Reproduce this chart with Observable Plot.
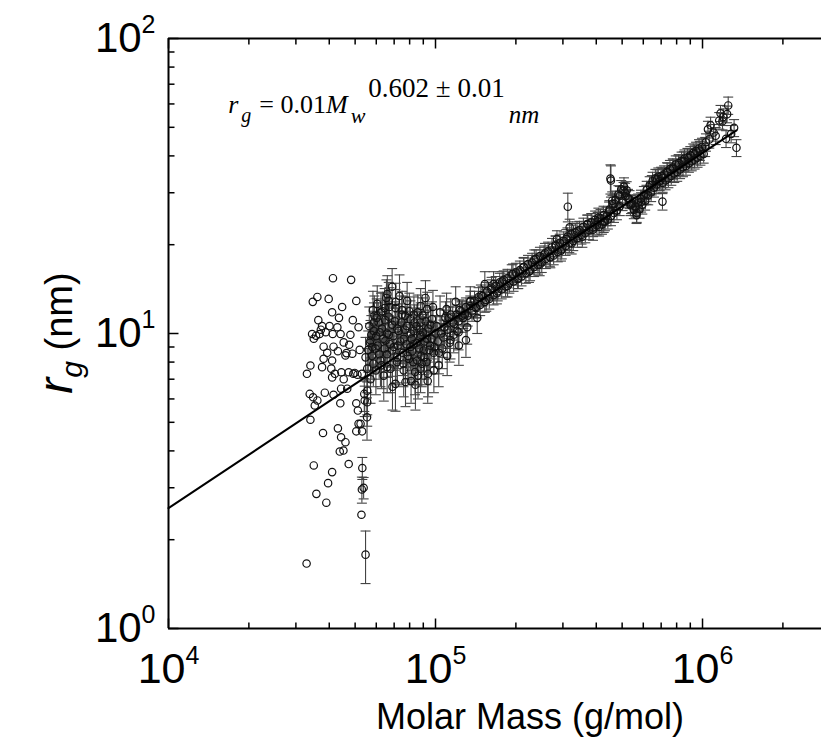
<!DOCTYPE html>
<html><head><meta charset="utf-8">
<script src="https://cdn.jsdelivr.net/npm/d3@7"></script>
<script src="https://cdn.jsdelivr.net/npm/@observablehq/plot@0.6"></script>
<style>
html,body{margin:0;padding:0;background:#fff;overflow:hidden;}
#chart{position:relative;width:821px;height:746px;}
</style></head><body><div id="chart"></div>
<script>
// ---- data: [molar mass (g/mol), r_g (nm)] without error bars ----
const leftCluster = [
[41300,15.4],[48300,15.2],[34700,12.8],[36100,13.3],[39800,13.1],[50500,12.9],[41000,11.8],[44700,12.3],[36400,11.1],[49000,11.1],
[37600,10.6],[40100,10.6],[42900,10.5],[51500,10.5],[34500,9.96],[35700,9.83],[36800,9.96],[38800,10.1],[41200,9.96],[44100,9.96],
[35000,9.6],[38100,9.02],[41500,9.02],[45300,9.33],[47500,9.16],[43100,8.71],[46400,8.58],[48800,8.54],[52000,8.8],[38100,8.21],
[41000,8.1],[46000,8.43],[34000,7.79],[37600,7.69],[40700,7.6],[44400,7.39],[49200,7.3],[33000,7.3],[45300,7.0],[41000,7.1],
[47300,7.39],[51000,7.25],[33800,6.24],[34800,6.08],[36100,5.93],[35300,5.7],[41500,6.2],[44300,6.5],[44000,5.8],[50500,5.8],
[51200,5.48],[34000,5.1],[51500,4.94],[52400,4.94],[50500,4.66],[53100,4.66],[37900,4.6],[43100,4.77],[44300,4.45],[46000,4.28],
[45200,4.01],[43800,3.98],[47300,3.61],[35000,3.57],[41000,3.39],[35800,2.86],[39600,3.11],[39000,2.67],[52800,2.43],[32900,1.66],
[37200,10.3],[39300,8.6],[48000,9.9],[43500,11.3],[49800,7.35],[53000,7.3],[42000,7.3],[46700,6.5],[38500,6.3]
];
// ---- data with error bars: [molar mass, r_g, error] ----
const lowTail = [
[53200,3.5,0.3],[53000,2.96,0.3],[53800,3.0,0.25],[54700,1.78,0.36],[55400,5.2,0.85],[54300,5.93,0.7],[54100,6.24,0.8]
];
const midCluster = [
[68800,14.4,2.2],[73300,13.4,2.4],[66800,12.9,2.0],[78300,12.9,2.0],[60500,12.6,1.9],[91700,13.2,1.9],[61300,10.9,1.8],[66800,11.4,1.8],[80600,11.2,1.7],[87900,10.9,1.8],
[93100,12.1,1.7],[58700,10.2,1.7],[71900,10.4,1.8],[82900,10.2,1.6],[57100,9.47,1.6],[65000,9.47,1.7],[76000,9.6,1.6],[87900,9.7,1.6],[59600,8.9,1.5],[68800,8.76,1.6],
[80600,9.0,1.5],[90300,8.76,1.5],[54700,8.3,1.4],[62200,8.1,1.5],[71900,8.3,1.5],[85400,8.1,1.4],[55500,7.6,1.3],[65900,7.7,1.4],[76000,7.5,1.4],[87900,7.6,1.3],
[57100,7.0,1.2],[70800,6.75,1.3],[77200,6.85,1.2],[84100,6.7,1.2],[64000,7.2,1.3],[55500,6.4,1.1],[55500,5.85,1.0],[58000,9.0,1.5],[60000,9.8,1.6],[61500,8.5,1.5],
[63000,10.4,1.7],[64500,8.9,1.5],[66000,10.0,1.6],[67500,9.2,1.5],[69500,9.8,1.6],[70500,11.0,1.8],[72500,9.1,1.5],[74500,10.9,1.7],[75500,8.6,1.4],[78000,10.6,1.7],
[79500,8.2,1.4],[81500,9.6,1.5],[82500,8.0,1.3],[83500,10.9,1.6],[85000,9.3,1.5],[86000,7.2,1.2],[87000,10.3,1.6],[88500,8.4,1.4],[89500,11.5,1.7],[91000,9.4,1.5],
[92500,8.0,1.3],[94000,10.4,1.6],[95500,9.1,1.4],[97000,11.2,1.6],[98500,8.6,1.3],[100000,10.0,1.5],[102000,9.4,1.4],[104000,11.8,1.6],[106000,8.9,1.3],[108000,10.5,1.5],
[110000,12.1,1.6],[113000,9.3,1.3],[116000,10.9,1.4],[119000,12.8,1.6],[122000,10.1,1.3],[126000,11.5,1.4],[130000,9.5,1.2],[135000,12.9,1.5],[153000,14.7,1.5],[165000,14.7,1.5],
[120600,10.2,1.3],[122300,9.1,1.3],[102800,7.8,1.2],[110600,8.4,1.2],[98600,7.5,1.2],[113800,9.5,1.3],[131400,10.5,1.3],[143300,11.3,1.3],[81000,6.9,1.1],[69000,6.6,1.1],
[62500,11.8,1.9],[59000,11.5,1.9],[64500,12.2,2.0],[75000,12.0,1.9],[65500,13.2,2.0],[66000,13.6,2.1],[56000,8.8,1.4],[57500,9.9,1.6],[56500,10.6,1.7],[58500,7.9,1.3]
];
const midClusterDense = [
[56800,9.3,1.5],[57800,8.4,1.4],[58800,10.9,1.8],[59800,7.5,1.3],[60800,9.1,1.5],[61800,10.1,1.7],[62800,7.8,1.3],[63800,9.6,1.6],[64800,11.1,1.8],[65800,8.5,1.4],
[66800,9.9,1.6],[67800,7.6,1.3],[68800,10.7,1.7],[69800,9.0,1.5],[70800,12.2,1.9],[71800,8.0,1.3],[72800,10.2,1.6],[73800,9.4,1.5],[74800,11.6,1.8],[75800,7.9,1.3],
[76800,10.3,1.6],[77800,9.2,1.5],[78800,8.4,1.4],[79800,11.9,1.8],[80800,10.0,1.6],[81800,8.7,1.4],[82800,9.2,1.5],[83800,7.4,1.2],[84800,10.6,1.6],[85800,11.8,1.7],
[86800,8.9,1.4],[87800,9.9,1.5],[88800,7.9,1.3],[89800,10.1,1.5],[90800,8.3,1.3],[91800,11.0,1.6],[92800,9.6,1.5],[93800,7.3,1.2],[94800,8.8,1.4],[95800,10.7,1.6],
[96800,9.6,1.4],[97800,12.3,1.7],[99000,9.0,1.3],[101000,10.6,1.5],[103000,8.6,1.3],[105000,10.0,1.4],[107000,9.7,1.4],[109000,11.3,1.5],[111000,10.3,1.4],[114000,11.6,1.5],
[117000,9.9,1.3],[60200,11.3,1.8],[63300,11.9,1.9],[67200,12.3,2.0],[71000,12.8,2.0],[77000,11.5,1.8],[83000,11.6,1.7],[88000,12.4,1.8],[58300,12.0,1.9],[93500,6.9,1.1]
];
const band = [
[120000,11.6,0.9],[122000,11.0,0.9],[125000,11.9,0.9],[127000,11.3,0.9],[130000,12.3,0.9],[132000,11.5,0.9],[135000,12.4,1.0],[137000,11.9,0.9],[140000,12.9,1.0],[142000,12.2,0.9],
[145000,13.3,1.0],[147000,12.5,1.0],[150000,13.4,1.0],[153000,12.8,1.0],[156000,13.9,1.0],[159000,13.1,1.0],[162000,14.1,1.1],[165000,13.5,1.0],[168000,14.5,1.1],[171000,13.9,1.0],
[174000,14.9,1.1],[177000,14.1,1.0],[180000,15.2,1.1],[183000,14.4,1.1],[186000,15.4,1.1],[189000,14.8,1.1],[193000,15.9,1.2],[196000,15.0,1.1],[200000,16.1,1.2],[203000,15.3,1.1],
[207000,16.4,1.2],[210000,15.6,1.1],[214000,16.8,1.2],[218000,16.0,1.2],[222000,17.2,1.2],[226000,16.3,1.2],[230000,17.4,1.3],[234000,16.8,1.2],[238000,17.9,1.3],[242000,17.1,1.2],
[246000,18.3,1.3],[250000,17.4,1.3],[255000,18.5,1.3],[259000,17.9,1.3],[264000,19.0,1.4],[268000,18.2,1.3],[273000,19.6,1.4],[277000,18.4,1.3],[282000,20.0,1.4],[287000,18.9,1.4],
[292000,20.3,1.4],[297000,19.3,1.4],[302000,20.6,1.5],[307000,19.8,1.4],[312000,21.3,1.5],[317000,20.2,1.4],[323000,21.8,1.5],[328000,20.6,1.5],[334000,22.0,1.6],[340000,21.1,1.5],
[346000,22.4,1.6],[352000,21.6,1.5],[358000,23.0,1.6],[364000,21.9,1.6],[370000,23.5,1.7],[376000,22.4,1.6],[383000,23.8,1.7],[389000,22.9,1.6],[396000,24.3,1.7],[402000,23.3,1.7],
[405000,24.0,1.7],[410000,23.0,1.6],[415000,24.6,1.7],[420000,23.4,1.7],[426000,25.2,1.8],[431000,24.0,1.7],[437000,25.0,1.8],[442000,24.3,1.7],[448000,26.3,1.9],[454000,25.0,1.8],
[460000,27.5,1.9],[466000,25.6,1.8],[472000,28.4,2.0],[478000,26.1,1.8],[484000,29.6,2.1],[490000,27.0,1.9],[496000,30.8,2.2],[502000,28.1,2.0],[508000,31.5,2.2],[514000,29.2,2.0],
[520000,30.6,2.1],[526000,28.8,2.0],[533000,28.5,2.0],[540000,27.4,1.9],[546000,27.6,1.9],[553000,26.3,1.8],[560000,27.0,1.9],[567000,25.6,1.8],[574000,27.8,1.9],[581000,26.4,1.8],
[588000,28.6,2.0],[595000,27.3,1.9],[603000,29.4,2.1],[610000,28.2,2.0],[618000,30.7,2.1],[626000,29.4,2.1],[634000,31.8,2.2],[642000,30.1,2.1],[650000,32.9,2.3],[658000,31.2,2.2],
[666000,33.6,2.4],[674000,32.0,2.2],[683000,34.0,2.4],[691000,32.8,2.3],
[700000,34.2,2.4],[709000,32.4,2.3],[718000,34.6,2.4],[727000,33.0,2.3],[736000,35.4,2.5],[745000,33.6,2.4],[755000,36.1,2.5],[764000,34.2,2.4],[774000,36.5,2.6],[784000,34.9,2.4],
[794000,37.4,2.6],[804000,35.3,2.5],[814000,37.8,2.6],[824000,36.0,2.5],[835000,38.5,2.7],[845000,36.6,2.6],[856000,39.2,2.7],[867000,37.0,2.6],[878000,39.6,2.8],[889000,37.8,2.6],
[900000,40.2,2.8],[911000,38.3,2.7],[923000,41.0,2.9],[934000,38.8,2.7],[946000,41.6,2.9],[958000,39.4,2.8],[970000,42.4,3.0],[982000,40.0,2.8],[995000,42.9,3.0],[1010000,40.6,2.8]
];
const bandDense = [
[112200,11.3,1.0],[117500,10.8,0.9],[123000,12.0,1.0],[128800,11.6,1.0],[134900,12.8,1.1],[141300,12.3,1.0],[147900,13.5,1.1],[154900,13.0,1.1],[162200,14.3,1.2],[169800,13.7,1.1],
[177800,15.0,1.2],[186200,14.5,1.2],[195000,15.9,1.3],[204200,15.4,1.2],[213800,16.8,1.3],[223900,16.2,1.3],[234400,17.8,1.4],[245500,17.1,1.4],[257000,18.7,1.5],[269200,18.1,1.4],
[281800,19.8,1.6],[295100,19.1,1.5],[309000,20.9,1.6],[323600,20.2,1.6],[338800,22.2,1.7],[354800,21.3,1.7],[371500,23.4,1.8],[389000,22.5,1.8],[407400,24.7,1.9],[426600,23.9,1.9],
[446700,25.9,2.0],[467700,27.6,2.1],[489800,29.3,2.2],[512900,30.0,2.3],[537000,27.2,2.1],[562300,26.8,2.0],[588800,27.9,2.1],[616600,29.6,2.2],[645700,31.9,2.4],[676100,33.4,2.5],
[707900,33.7,2.5],[741300,35.2,2.6],[776200,36.1,2.7],[812800,37.2,2.8],[851100,38.4,2.9],[891300,39.4,2.9],[933300,40.5,3.0],[977200,41.7,3.1],[1023000,43.0,3.2]
];
const outliers = [
[313000,26.9,3.0],[318000,22.9,1.5],[454000,33.0,4.0],[452000,33.5,3.8],[459000,28.2,2.0],[506000,30.5,2.0],[566000,25.2,1.6],[708000,28.0,1.8],[285000,20.9,1.4]
];
const topClump = [
[1248000,59.3,4.0],[1168000,55.8,3.5],[1196000,54.2,3.5],[1155000,52.7,3.4],[1188000,52.4,3.4],[1072000,50.8,3.3],[1048000,49.2,3.2],[1101000,48.0,3.1],[1225000,45.7,3.0],[1313000,49.8,3.3],
[1340000,42.6,2.8],[1236000,55.4,3.6],[1030000,44.5,3.0],[1060000,45.5,3.0],[1120000,46.8,3.1],[1280000,47.5,3.2]
];
// ---- fit: r_g = 0.01 * Mw^0.602 ----
const fitCoefficient = 0.01, fitExponent = 0.602;
const fitRange = [1e4, 1.34e6];
// ---- axes ----
const xDomain = [1e4, 2.79e6];
const yDomain = [1, 100];
const xMajorTicks = [1e4, 1e5, 1e6];
const xMinorTicks = [2e4,3e4,4e4,5e4,6e4,7e4,8e4,9e4,2e5,3e5,4e5,5e5,6e5,7e5,8e5,9e5,2e6];
const yMajorTicks = [1, 10, 100];
const yMinorTicks = [2,3,4,5,6,7,8,9,20,30,40,50,60,70,80,90];
const xTitle = "Molar Mass (g/mol)";

const plain = leftCluster.map(([M, rg]) => ({M, rg}));
const withErr = [...lowTail, ...midCluster, ...midClusterDense, ...band, ...bandDense, ...outliers, ...topClump]
  .map(([M, rg, err]) => ({M, rg, err}));
const allPoints = plain.concat(withErr);
const fit = fitRange.map(M => ({M, rg: fitCoefficient * Math.pow(M, fitExponent)}));

const hLine = (a, b) => ({draw(ctx){ ctx.moveTo(a, 0); ctx.lineTo(b, 0); }});
const vLine = (a, b) => ({draw(ctx){ ctx.moveTo(0, a); ctx.lineTo(0, b); }});
const cap = hLine(-5, 5);
const errColor = "#444";

const chart = Plot.plot({
  width: 821, height: 746,
  marginLeft: 168, marginRight: 0, marginTop: 38, marginBottom: 118,
  x: {type: "log", domain: xDomain},
  y: {type: "log", domain: yDomain},
  style: {fontFamily: "'Liberation Sans', Arial, sans-serif", background: "white", color: "black"},
  marks: [
    Plot.ruleX(withErr, {x: "M", y1: d => d.rg - d.err, y2: d => d.rg + d.err, stroke: errColor, strokeWidth: 1.1}),
    Plot.dot(withErr, {x: "M", y: d => d.rg + d.err, symbol: cap, stroke: errColor, fill: "none", strokeWidth: 1.1}),
    Plot.dot(withErr, {x: "M", y: d => d.rg - d.err, symbol: cap, stroke: errColor, fill: "none", strokeWidth: 1.1}),
    Plot.dot(allPoints, {x: "M", y: "rg", r: 3.7, stroke: "#111", fill: "none", strokeWidth: 1.2}),
    Plot.line(fit, {x: "M", y: "rg", stroke: "black", strokeWidth: 2}),
    // frame
    Plot.ruleY([yDomain[0]], {stroke: "black", strokeWidth: 2}),
    Plot.ruleY([yDomain[1]], {stroke: "black", strokeWidth: 2}),
    Plot.ruleX([xDomain[0]], {stroke: "black", strokeWidth: 2}),
    // inward ticks
    Plot.dot(xMajorTicks, {x: d => d, y: () => yDomain[0], symbol: vLine(0, -10), stroke: "black", strokeWidth: 1.5}),
    Plot.dot(xMinorTicks, {x: d => d, y: () => yDomain[0], symbol: vLine(0, -6), stroke: "black", strokeWidth: 1.5}),
    Plot.dot(xMajorTicks, {x: d => d, y: () => yDomain[1], symbol: vLine(0, 10), stroke: "black", strokeWidth: 1.5}),
    Plot.dot(xMinorTicks, {x: d => d, y: () => yDomain[1], symbol: vLine(0, 6), stroke: "black", strokeWidth: 1.5}),
    Plot.dot(yMajorTicks, {y: d => d, x: () => xDomain[0], symbol: hLine(0, 10), stroke: "black", strokeWidth: 1.5}),
    Plot.dot(yMinorTicks, {y: d => d, x: () => xDomain[0], symbol: hLine(0, 6), stroke: "black", strokeWidth: 1.5}),
    Plot.axisX({ticks: xMajorTicks, tickSize: 0, tickPadding: 24, fontSize: 43, label: null,
      tickFormat: d => "10^" + Math.round(Math.log10(d))}),
    Plot.axisY({ticks: yMajorTicks, tickSize: 0, tickPadding: 13, fontSize: 42, label: null,
      tickFormat: d => "10^" + Math.round(Math.log10(d))})
  ]
});

const svg = d3.select(chart);
svg.selectAll('g[aria-label="x-axis tick label"] text, g[aria-label="y-axis tick label"] text').each(function() {
  const t = d3.select(this);
  const [base, exp] = t.text().split("^");
  t.text(null);
  t.append("tspan").text(base);
  t.append("tspan").attr("dy", -19).attr("font-size", 25).text(exp);
});

// y title
const yl = svg.append("text")
  .attr("transform", "translate(72,333) rotate(-90)")
  .attr("text-anchor", "middle")
  .attr("font-family", "'Liberation Sans', Arial, sans-serif")
  .attr("font-size", 38).attr("fill", "black");
yl.append("tspan").attr("font-style", "italic").attr("font-size", 48).text("r");
yl.append("tspan").attr("font-style", "italic").attr("font-size", 30).attr("dy", 10).text("g");
yl.append("tspan").attr("dy", -10).text(" (nm)");

// x title
svg.append("text").attr("x", 530).attr("y", 729).attr("text-anchor", "middle")
  .attr("font-family", "'Liberation Sans', Arial, sans-serif").attr("font-size", 36)
  .attr("fill", "black").text(xTitle);

// equation annotation
const xs = chart.scale("x"), ys = chart.scale("y");
const eq = svg.append("text")
  .attr("x", xs.apply(16800)).attr("y", ys.apply(55.7))
  .attr("text-anchor", "start")
  .attr("font-family", "'Liberation Serif', 'Times New Roman', serif")
  .attr("font-size", 26).attr("fill", "black");
eq.append("tspan").attr("font-style", "italic").text("r");
eq.append("tspan").attr("font-style", "italic").attr("font-size", 20).attr("dy", 9).attr("dx", 3).text("g");
eq.append("tspan").attr("dy", -9).attr("dx", 8).text("= 0.01");
eq.append("tspan").attr("font-style", "italic").text("M");
eq.append("tspan").attr("font-style", "italic").attr("font-size", 22).attr("dy", 10).attr("dx", 3).text("w");
eq.append("tspan").attr("font-size", 27).attr("dy", -26).attr("dx", 3).text("0.602 ± 0.01");
eq.append("tspan").attr("font-style", "italic").attr("font-size", 25).attr("dy", 26).attr("dx", 4).text("nm");

document.getElementById("chart").appendChild(chart);
</script>
</body></html>
